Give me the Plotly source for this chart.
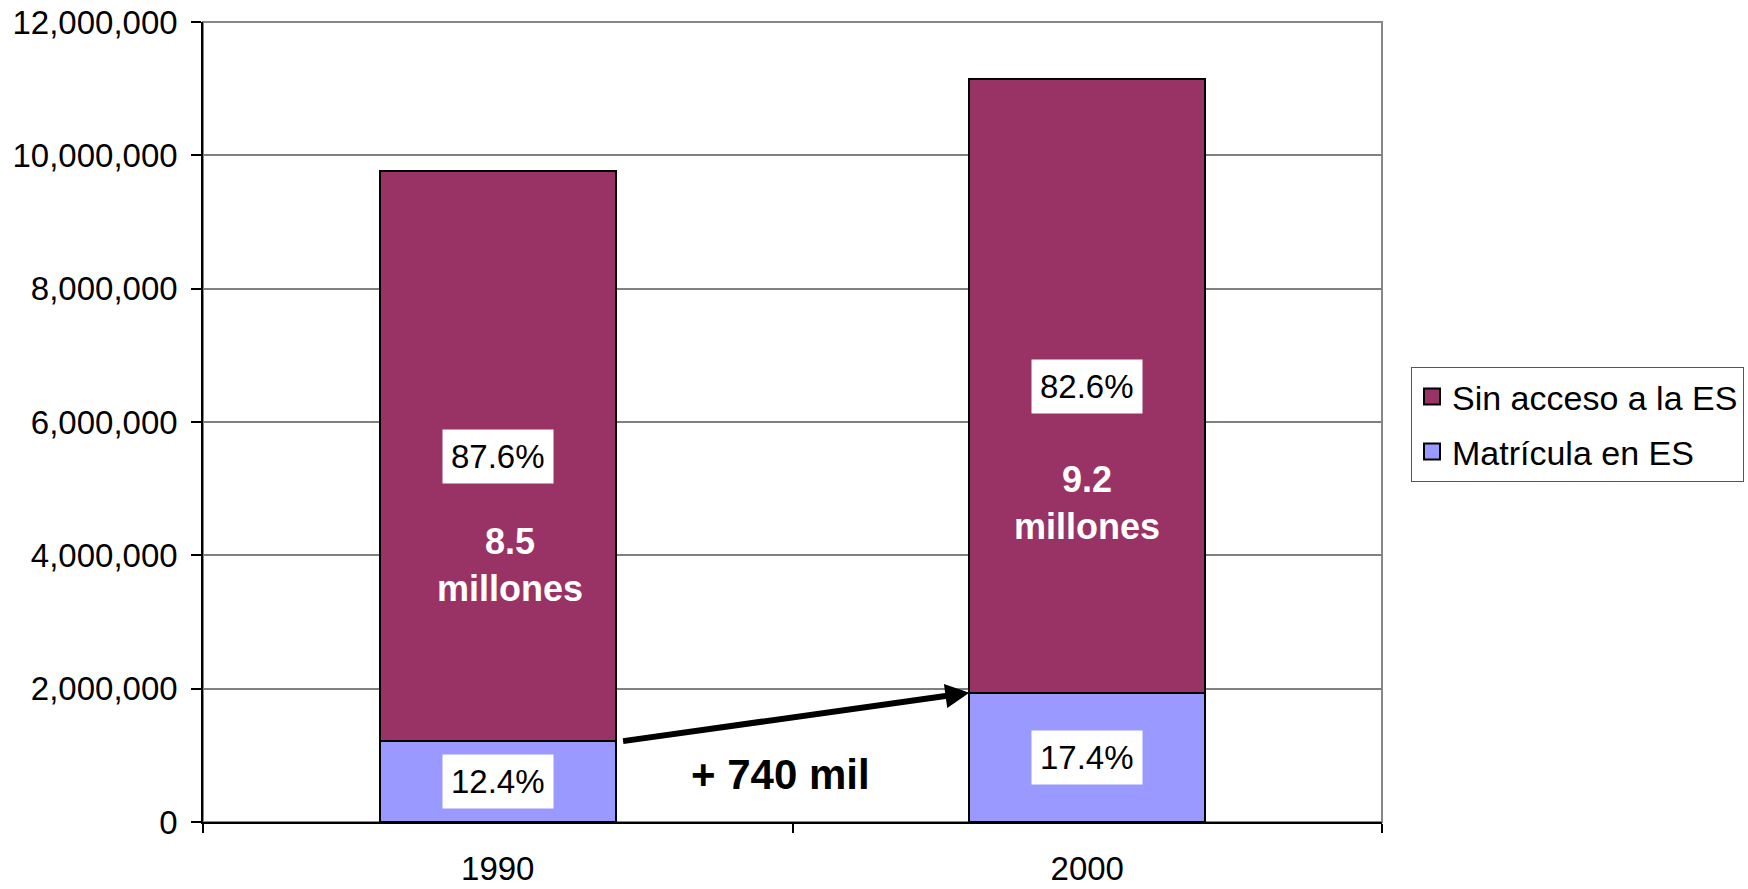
import plotly.graph_objects as go

years = ["1990", "2000"]
matricula = [1210000, 1940000]
sin_acceso = [8560000, 9200000]
pct_matricula = ["12.4%", "17.4%"]
pct_sin_acceso = ["87.6%", "82.6%"]
millones_labels = ["8.5<br>millones", "9.2<br>millones"]
incremento_label = "+ 740 mil"
y_ticks = [0, 2000000, 4000000, 6000000, 8000000, 10000000, 12000000]

FONT = "Liberation Sans, Arial, sans-serif"
C_SIN = "#993366"
C_MAT = "#9999FF"

fig = go.Figure()
fig.add_trace(go.Bar(
    x=years, y=matricula, name="Matrícula en ES", showlegend=False,
    marker=dict(color=C_MAT, line=dict(color="black", width=2)),
    hoverinfo="skip",
))
fig.add_trace(go.Bar(
    x=years, y=sin_acceso, name="Sin acceso a la ES", showlegend=False,
    marker=dict(color=C_SIN, line=dict(color="black", width=2)),
    hoverinfo="skip",
))
# legend entries with larger square symbols
fig.add_trace(go.Scatter(
    x=[None], y=[None], mode="markers", name="Sin acceso a la ES",
    legendgroup="a",
    marker=dict(symbol="square", size=17, color=C_SIN, line=dict(color="black", width=2)),
))
fig.add_trace(go.Scatter(
    x=[None], y=[None], mode="markers", name="Matrícula en ES",
    legendgroup="b",
    marker=dict(symbol="square", size=17, color=C_MAT, line=dict(color="black", width=2)),
))

annotations = []
for i, yr in enumerate(years):
    annotations.append(dict(
        x=i, y=matricula[i] / 2, xref="x", yref="y", text=pct_matricula[i],
        showarrow=False, bgcolor="white", borderpad=8,
        font=dict(family=FONT, size=33, color="black"),
    ))
    annotations.append(dict(
        x=i, y=matricula[i] + sin_acceso[i] / 2, xref="x", yref="y",
        text=pct_sin_acceso[i], showarrow=False, bgcolor="white", borderpad=8,
        font=dict(family=FONT, size=33, color="black"),
    ))

def bold_lines(s):
    return "<br>".join("<b>" + p + "</b>" for p in s.split("<br>"))

annotations.append(dict(
    x=0.02, y=3850000, xref="x", yref="y", text=bold_lines(millones_labels[0]),
    showarrow=False, font=dict(family=FONT, size=36, color="white"),
))
annotations.append(dict(
    x=1, y=4790000, xref="x", yref="y", text=bold_lines(millones_labels[1]),
    showarrow=False, font=dict(family=FONT, size=36, color="white"),
))

annotations.append(dict(
    x=0.48, y=720000, xref="x", yref="y", text="<b>" + incremento_label + "</b>",
    showarrow=False, font=dict(family=FONT, size=42, color="black"),
))
annotations.append(dict(
    x=0.8, y=matricula[1], xref="x", yref="y",
    ax=0.21, ay=matricula[0], axref="x", ayref="y",
    text="", showarrow=True, arrowhead=2, arrowsize=0.8, arrowwidth=6,
    arrowcolor="black", standoff=0,
))

fig.update_layout(
    width=1748, height=889,
    margin=dict(l=203, r=366, t=22, b=67, autoexpand=False),
    paper_bgcolor="white", plot_bgcolor="white",
    barmode="stack", bargap=0.6,
    font=dict(family=FONT, size=33, color="black"),
    showlegend=True,
    legend=dict(
        x=1.0246, y=0.569, xanchor="left", yanchor="top",
        traceorder="grouped", tracegroupgap=8,
        bordercolor="#555555", borderwidth=1, bgcolor="white",
        font=dict(family=FONT, size=34, color="black"),
        itemwidth=30,
    ),
    annotations=annotations,
    shapes=[dict(type="rect", xref="paper", yref="paper", x0=0, x1=1, y0=0, y1=1,
                 line=dict(color="#888888", width=2), layer="below")],
)

fig.update_yaxes(
    range=[0, 12000000], tickvals=y_ticks, tickformat=",d",
    showgrid=True, gridcolor="#808080", gridwidth=1.5,
    showline=True, linecolor="black", linewidth=1.5,
    ticks="outside", ticklen=10, tickcolor="black", tickwidth=1.5,
    ticklabelstandoff=7, automargin=False,
    tickfont=dict(family=FONT, size=33, color="black"),
    zeroline=False, fixedrange=True,
)
fig.update_xaxes(
    type="category", range=[-0.5, 1.5],
    showline=True, linecolor="black", linewidth=1.5,
    ticks="outside", tickson="boundaries", ticklen=9, tickcolor="black", tickwidth=1.5,
    ticklabelstandoff=17, automargin=False,
    tickfont=dict(family=FONT, size=33, color="black"),
    showgrid=False, fixedrange=True,
)

fig.write_html("out.html", config={"displayModeBar": False})
